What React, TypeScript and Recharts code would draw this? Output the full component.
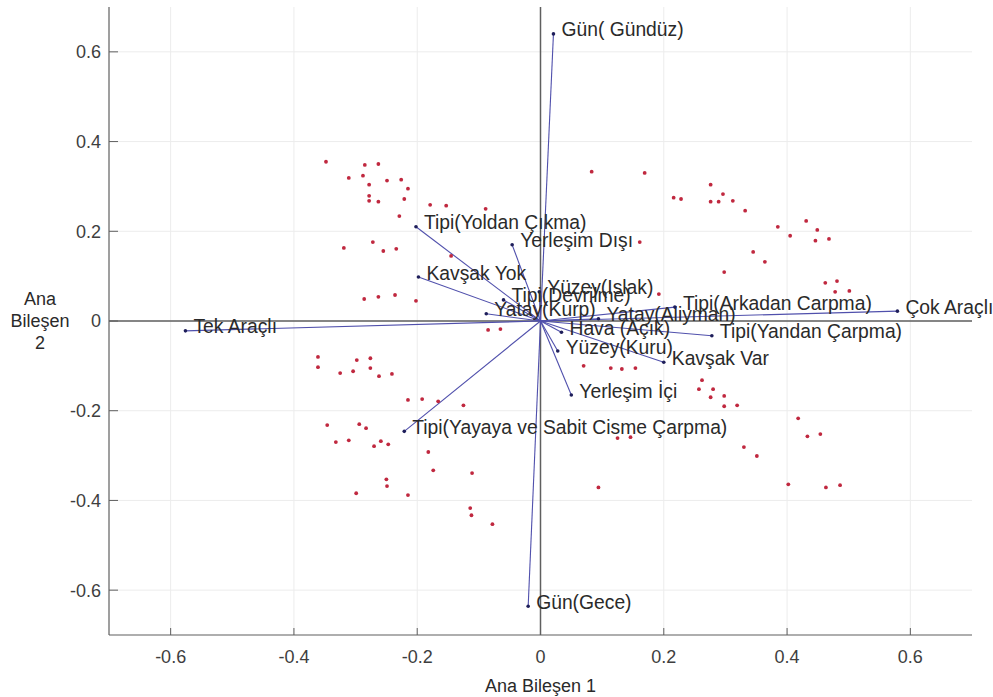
import {
  ScatterChart,
  Scatter,
  XAxis,
  YAxis,
  ReferenceLine,
  CartesianGrid,
  Label,
} from "recharts";

const FONT = "'Liberation Sans', Arial, sans-serif";

// biplot axes
const X_TICKS = [-0.6, -0.4, -0.2, 0, 0.2, 0.4, 0.6];
const Y_TICKS = [-0.6, -0.4, -0.2, 0, 0.2, 0.4, 0.6];

// variable loadings (vectors)
const VAR_NAMES = [
  "Gün( Gündüz)",
  "Gün(Gece)",
  "Tek Araçlı",
  "Çok Araçlı",
  "Tipi(Yoldan Çıkma)",
  "Kavşak Yok",
  "Yerleşim Dışı",
  "Yüzey(Islak)",
  "Tipi(Devrilme)",
  "Yatay(Kurp)",
  "Hava (Açık)",
  "Yatay(Aliyman)",
  "Yüzey(Kuru)",
  "Kavşak Var",
  "Yerleşim İçi",
  "Tipi(Arkadan Carpma)",
  "Tipi(Yandan Çarpma)",
  "Tipi(Yayaya ve Sabit Cisme Çarpma)",
];
const VAR_X = [
  0.021, -0.02, -0.576, 0.579, -0.202, -0.198, -0.046, -0.002, -0.06, -0.088,
  0.034, 0.094, 0.028, 0.2, 0.05, 0.218, 0.278, -0.221,
];
const VAR_Y = [
  0.64, -0.636, -0.022, 0.022, 0.21, 0.098, 0.17, 0.065, 0.047, 0.016,
  -0.025, 0.005, -0.067, -0.092, -0.165, 0.031, -0.033, -0.246,
];

// observation scores
const OBS_X = [
  -0.348, -0.285, -0.263, -0.311, -0.288, -0.278, -0.249, -0.226, -0.215, -0.278,
  -0.278, -0.263, -0.221, -0.229, -0.179, -0.153, -0.089, -0.319, -0.272, -0.255,
  -0.234, -0.286, -0.263, -0.236, -0.202, -0.145, -0.085, -0.065,
  0.083, 0.169, 0.276, 0.296, 0.216, 0.228, 0.276, 0.289, 0.312, 0.332,
  0.385, 0.431, 0.449, 0.405, 0.446, 0.468, 0.161, 0.345, 0.364, 0.298,
  0.192, 0.462, 0.481, 0.478, 0.501,
  0.07, 0.114, 0.132, 0.154, 0.262, 0.257, 0.28, 0.276, 0.298, 0.298,
  0.319, 0.418, 0.433, 0.454, 0.125, 0.146, 0.33, 0.351, 0.094, 0.402,
  0.463, 0.486,
  -0.361, -0.361, -0.298, -0.276, -0.276, -0.325, -0.304, -0.262, -0.241, -0.215,
  -0.192, -0.166, -0.125, -0.346, -0.294, -0.283, -0.332, -0.311, -0.27, -0.259,
  -0.247, -0.182, -0.174, -0.111, -0.25, -0.249, -0.299, -0.215, -0.114, -0.112,
  -0.078,
];
const OBS_Y = [
  0.355, 0.348, 0.35, 0.319, 0.324, 0.304, 0.313, 0.315, 0.295, 0.279,
  0.268, 0.266, 0.272, 0.234, 0.259, 0.257, 0.25, 0.163, 0.176, 0.156,
  0.161, 0.049, 0.054, 0.058, 0.045, 0.145, -0.02, -0.018,
  0.333, 0.33, 0.304, 0.283, 0.275, 0.272, 0.266, 0.266, 0.268, 0.246,
  0.21, 0.223, 0.203, 0.19, 0.179, 0.183, 0.176, 0.154, 0.132, 0.109,
  0.06, 0.085, 0.089, 0.065, 0.067,
  -0.1, -0.105, -0.107, -0.105, -0.132, -0.152, -0.152, -0.17, -0.167, -0.19,
  -0.188, -0.217, -0.257, -0.252, -0.261, -0.259, -0.281, -0.301, -0.371, -0.364,
  -0.371, -0.366,
  -0.08, -0.103, -0.087, -0.083, -0.105, -0.116, -0.112, -0.123, -0.118, -0.176,
  -0.174, -0.179, -0.188, -0.232, -0.23, -0.239, -0.27, -0.266, -0.279, -0.268,
  -0.275, -0.292, -0.333, -0.339, -0.353, -0.368, -0.384, -0.388, -0.417, -0.433,
  -0.453,
];

const vectors = VAR_NAMES.map((name, i) => ({ name, x: VAR_X[i], y: VAR_Y[i] }));
const observations = OBS_X.map((x, i) => ({ x, y: OBS_Y[i] }));

const VECTOR_COLOR = "#5050ac";
const AXIS_COLOR = "#5f5f5f";
const GRID_COLOR = "#ececec";
const tickStyle = { fontSize: 18, fill: "#3e3e3e", fontFamily: FONT };

function VectorEnd(props: any) {
  const { cx, cy, payload } = props;
  return (
    <g>
      <circle cx={cx} cy={cy} r={1.8} fill="#1e1e5a" />
      <text
        x={cx + 8}
        y={cy - 4}
        dominantBaseline="central"
        fontSize={19.3}
        fontFamily={FONT}
        fill="#2a2a2a"
      >
        {payload.name}
      </text>
    </g>
  );
}

function ObsDot(props: any) {
  const { cx, cy } = props;
  return <circle cx={cx} cy={cy} r={1.9} fill="#c0283f" />;
}

export default function App() {
  return (
    <div style={{ position: "absolute", left: 0, top: 0, background: "#fff" }}>
      <ScatterChart
        width={993}
        height={697}
        margin={{ top: 7, right: 21, left: 0, bottom: 0 }}
      >
        {/* grid only at the tick positions, no frame */}
        <CartesianGrid
          stroke={GRID_COLOR}
          horizontalValues={Y_TICKS}
          verticalValues={X_TICKS}
        />
        <XAxis
          type="number"
          dataKey="x"
          domain={[-0.7, 0.7]}
          ticks={X_TICKS}
          height={62}
          tickSize={-7}
          tickMargin={22}
          tick={tickStyle}
          tickLine={{ stroke: AXIS_COLOR }}
          axisLine={{ stroke: AXIS_COLOR, strokeWidth: 1.2 }}
          tickFormatter={(v) => String(v)}
        >
          <Label
            content={(p: any) => {
              const vb = p.viewBox;
              return (
                <text
                  x={vb.x + vb.width / 2}
                  y={vb.y + 51}
                  textAnchor="middle"
                  dominantBaseline="central"
                  fontSize={18}
                  fontFamily={FONT}
                  fill="#2a2a2a"
                >
                  Ana Bileşen 1
                </text>
              );
            }}
          />
        </XAxis>
        <YAxis
          type="number"
          dataKey="y"
          domain={[-0.7, 0.7]}
          ticks={Y_TICKS}
          width={109}
          tickSize={-9}
          tickMargin={17}
          tick={tickStyle}
          tickLine={{ stroke: AXIS_COLOR }}
          axisLine={{ stroke: AXIS_COLOR, strokeWidth: 1.2 }}
          tickFormatter={(v) => String(v)}
        >
          <Label
            content={(p: any) => {
              const vb = p.viewBox;
              const cx = vb.x + 40;
              const cy = vb.y + vb.height / 2;
              return (
                <text
                  textAnchor="middle"
                  fontSize={18}
                  fontFamily={FONT}
                  fill="#2a2a2a"
                >
                  <tspan x={cx} y={cy - 22} dominantBaseline="central">Ana</tspan>
                  <tspan x={cx} y={cy} dominantBaseline="central">Bileşen</tspan>
                  <tspan x={cx} y={cy + 22} dominantBaseline="central">2</tspan>
                </text>
              );
            }}
          />
        </YAxis>
        <ReferenceLine x={0} stroke={AXIS_COLOR} strokeWidth={1.5} />
        <ReferenceLine y={0} stroke={AXIS_COLOR} strokeWidth={1.5} />
        {vectors.map((v) => (
          <ReferenceLine
            key={v.name}
            segment={[
              { x: 0, y: 0 },
              { x: v.x, y: v.y },
            ]}
            stroke={VECTOR_COLOR}
            strokeWidth={1.1}
          />
        ))}
        <Scatter
          data={observations}
          shape={ObsDot}
          isAnimationActive={false}
        />
        <Scatter
          data={vectors}
          shape={VectorEnd}
          isAnimationActive={false}
        />
      </ScatterChart>
    </div>
  );
}
